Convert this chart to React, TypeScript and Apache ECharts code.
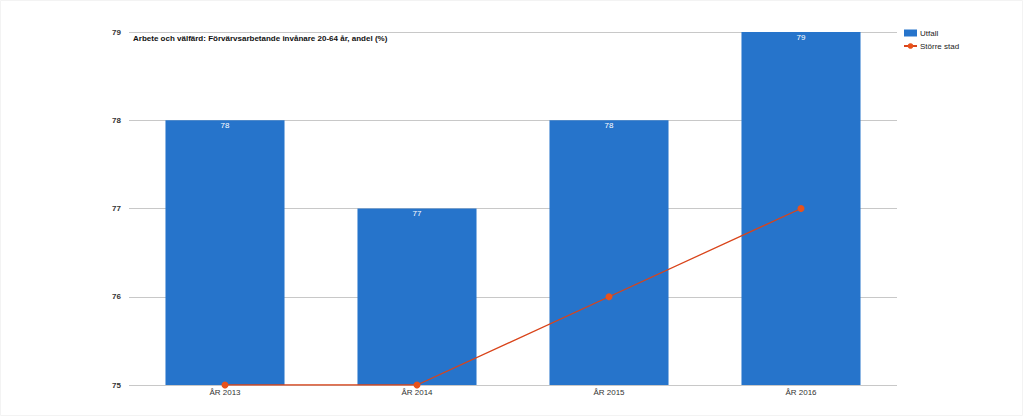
import React, { useEffect, useRef } from "react";
import * as echarts from "echarts";

const categories = ["ÅR 2013", "ÅR 2014", "ÅR 2015", "ÅR 2016"];
const utfall = [78, 77, 78, 79];
const storreStad = [75, 75, 76, 77];
const yTicks = [75, 76, 77, 78, 79];
const title = "Arbete och välfärd: Förvärvsarbetande invånare 20-64 år, andel (%)";

const font = "Arial, Liberation Sans, sans-serif";

export default function App() {
  const ref = useRef<HTMLDivElement>(null);
  useEffect(() => {
    const chart = echarts.init(ref.current!, null, { renderer: "svg" });
    chart.setOption({
      animation: false,
      backgroundColor: "#fff",
      graphic: [
        {
          type: "rect",
          shape: { x: 0.5, y: 0.5, width: 1022, height: 415 },
          style: { fill: "none", stroke: "#f3f3f3", lineWidth: 1 },
          silent: true,
        },
      ],
      title: {
        text: title,
        left: 133,
        top: 34,
        padding: 0,
        textStyle: { fontFamily: font, fontSize: 8, fontWeight: "bold", color: "#111" },
      },
      legend: {
        orient: "vertical",
        left: 903,
        top: 29,
        padding: 0,
        itemWidth: 13,
        itemHeight: 7,
        itemGap: 5,
        textStyle: { fontFamily: font, fontSize: 8, color: "#222", padding: [0, 0, 0, -2] },
        data: [
          { name: "Utfall", icon: "rect" },
          { name: "Större stad" },
        ],
      },
      grid: { left: 129, right: 127, top: 32, bottom: 32, containLabel: false },
      xAxis: {
        type: "category",
        data: categories,
        axisLine: { show: false },
        axisTick: { show: false },
        axisLabel: { fontFamily: font, fontSize: 8, color: "#333", margin: 3 },
      },
      yAxis: {
        type: "value",
        min: yTicks[0],
        max: yTicks[yTicks.length - 1],
        interval: 1,
        axisLine: { show: false },
        axisTick: { show: false },
        axisLabel: { fontFamily: font, fontSize: 8, fontWeight: "bold", color: "#333", margin: 8 },
        splitLine: { lineStyle: { color: "#c8c8c8", width: 1 } },
      },
      series: [
        {
          name: "Utfall",
          type: "bar",
          data: utfall,
          barWidth: "62%",
          itemStyle: { color: "#2674cb" },
          label: {
            show: true,
            position: "insideTop",
            distance: 1,
            color: "#fff",
            fontFamily: font,
            fontSize: 8,
          },
        },
        {
          name: "Större stad",
          type: "line",
          data: storreStad,
          symbol: "circle",
          symbolSize: 7,
          lineStyle: { color: "#d9441a", width: 1.3 },
          itemStyle: { color: "#e8521b" },
        },
      ],
    });
    return () => chart.dispose();
  }, []);
  return (
    <div
      ref={ref}
      style={{ position: "fixed", left: 0, top: 0, width: 1024, height: 417 }}
    />
  );
}
